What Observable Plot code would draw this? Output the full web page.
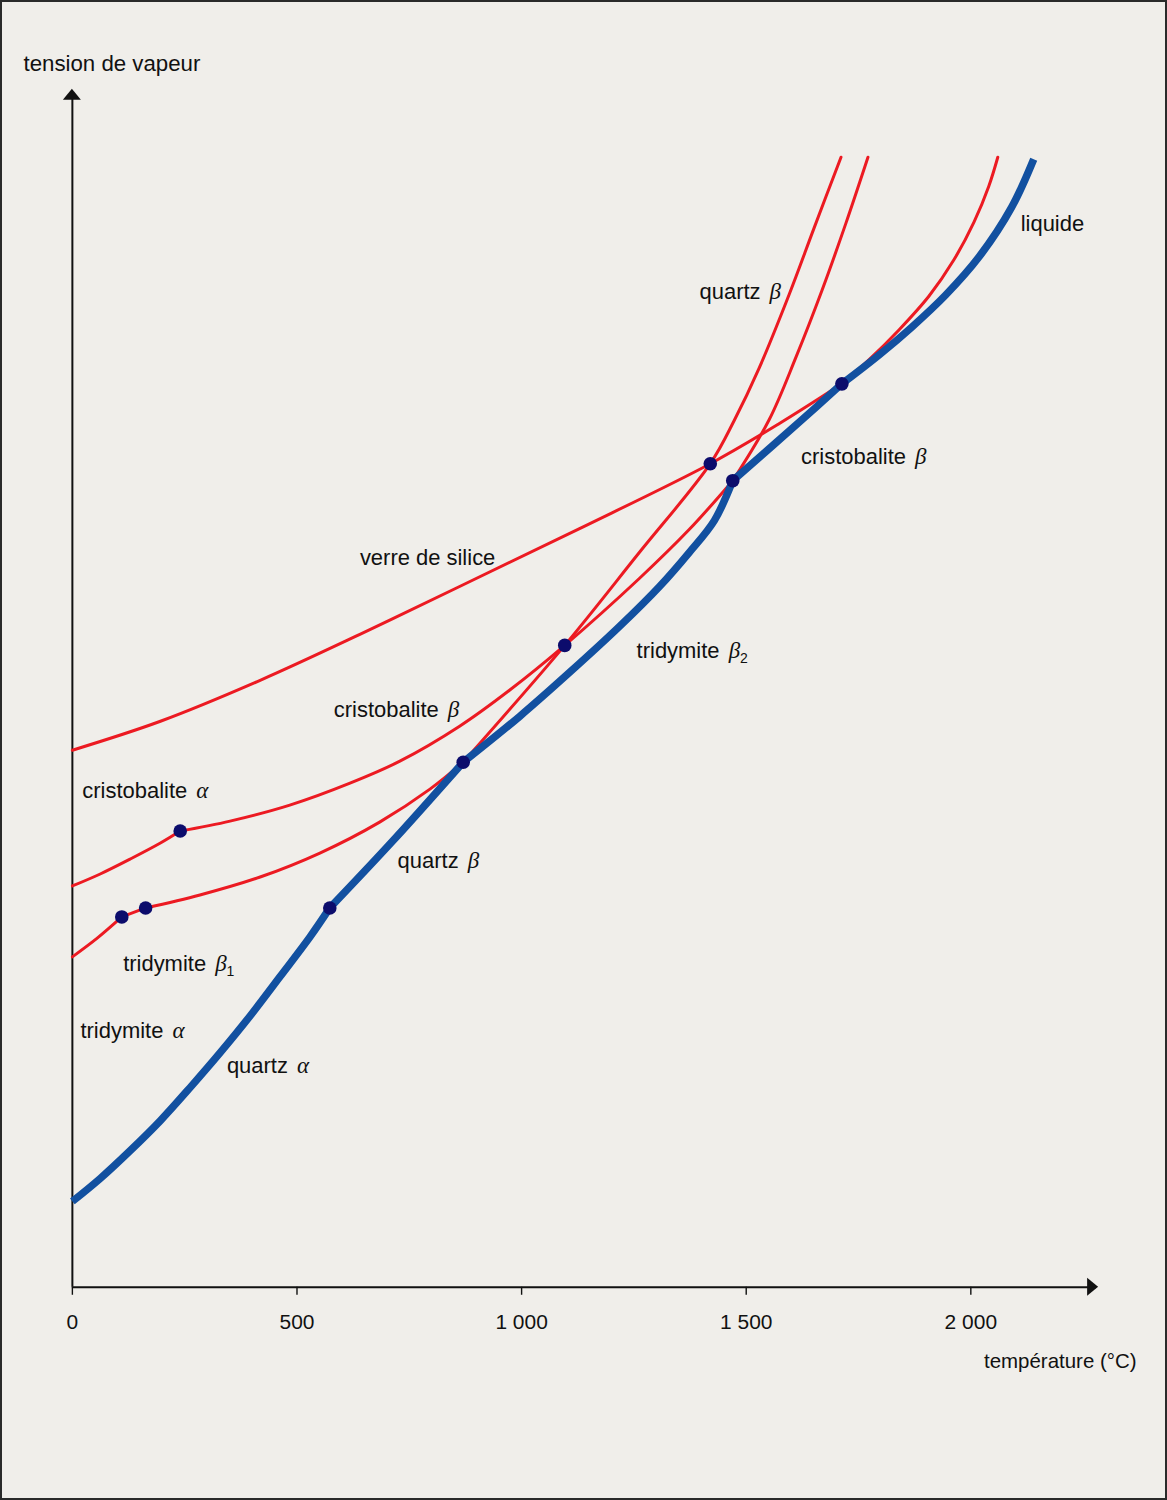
<!DOCTYPE html>
<html><head><meta charset="utf-8">
<script src="https://cdn.jsdelivr.net/npm/d3@7"></script>
<script src="https://cdn.jsdelivr.net/npm/@observablehq/plot@0.6"></script>
<style>
html,body{margin:0;padding:0;background:#f0eeea;}
#frame{position:relative;width:1167px;height:1500px;box-sizing:border-box;border:2px solid #2a2a2a;background:#f0eeea;overflow:hidden;}
#chart{position:absolute;left:-2px;top:-2px;}
</style></head><body><div id="frame"><div id="chart"></div></div>
<script>
// ---- Data (temperature °C, relative log vapour pressure, arbitrary units) ----
// Stable phases (blue)
const quartzAlphaT = [0, 62, 129, 196, 262, 329, 396, 462, 529, 573];
const quartzAlphaY = [8.6, 10.9, 13.7, 16.7, 20.0, 23.5, 27.2, 31.1, 35.1, 38.0];
const quartzBetaStableT = [573, 713, 870];
const quartzBetaStableY = [38.0, 44.7, 52.6];
const tridymiteB2StableT = [870, 996, 1107, 1218, 1307, 1373, 1429, 1470];
const tridymiteB2StableY = [52.6, 57.2, 61.6, 66.2, 70.2, 73.6, 76.8, 80.8];
const cristoBetaStableT = [1470, 1624, 1713];
const cristoBetaStableY = [80.8, 86.9, 90.5];
const liquidT = [1713, 1796, 1869, 1944, 2018, 2091, 2140];
const liquidY = [90.5, 93.4, 96.2, 99.4, 103.2, 108.2, 113.0];
// Metastable phases (red)
const glassT = [0, 196, 418, 640, 862, 1129, 1420, 1573, 1713];
const glassY = [53.8, 56.7, 60.8, 65.4, 70.2, 76.0, 82.5, 86.5, 90.5];
const cristoAlphaT = [0, 62, 129, 196, 240];
const cristoAlphaY = [40.2, 41.4, 42.9, 44.5, 45.7];
const cristoBetaLowT = [240, 351, 484, 618, 729, 862, 973, 1096, 1262, 1373, 1470];
const cristoBetaLowY = [45.7, 46.7, 48.3, 50.5, 52.7, 56.2, 59.8, 64.3, 71.0, 75.9, 80.8];
const cristoBetaHighT = [1713, 1773, 1840, 1907, 1962, 2007, 2040, 2060];
const cristoBetaHighY = [90.5, 92.9, 95.9, 99.3, 102.9, 106.7, 110.3, 113.2];
const tridymiteAlphaT = [0, 56, 110];
const tridymiteAlphaY = [33.1, 35.0, 37.1];
const tridymiteB1T = [110, 163];
const tridymiteB1Y = [37.1, 38.0];
const tridymiteB2LowT = [163, 284, 418, 551, 684, 796, 870];
const tridymiteB2LowY = [38.0, 39.3, 41.1, 43.5, 46.6, 49.9, 52.6];
const tridymiteB2HighT = [1470, 1551, 1611, 1669, 1722, 1771];
const tridymiteB2HighY = [80.8, 86.9, 93.2, 99.9, 106.6, 113.2];
const quartzBetaMetaT = [870, 1096, 1262, 1420, 1473, 1529, 1596, 1651, 1711];
const quartzBetaMetaY = [52.6, 64.3, 73.6, 82.5, 86.8, 92.1, 99.5, 106.1, 113.2];
// Transition / triple points
const pointT = [110, 163, 240, 573, 870, 1096, 1420, 1470, 1713];
const pointY = [37.1, 38.0, 45.7, 38.0, 52.6, 64.3, 82.5, 80.8, 90.5];
// Curve labels
const labelText = ["liquide", "quartz β", "cristobalite β", "verre de silice", "tridymite β₂",
  "cristobalite β", "cristobalite α", "quartz β", "tridymite β₁", "tridymite α", "quartz α"];
const labelT = [2111, 1396, 1622, 640, 1256, 582, 22, 724, 113, 18, 344];
const labelY = [106.5, 99.7, 83.2, 73.1, 63.7, 57.8, 49.7, 42.7, 32.4, 25.7, 22.2];
// Axis ticks
const xTicks = [0, 500, 1000, 1500, 2000];
const xTickLabels = ["0", "500", "1 000", "1 500", "2 000"];

function seg(name, T, Y) { return T.map((t, i) => ({seg: name, T: t, Y: Y[i]})); }
const blueRows = [
  ...seg("qa", quartzAlphaT, quartzAlphaY),
  ...seg("qb", quartzBetaStableT, quartzBetaStableY),
  ...seg("tb2", tridymiteB2StableT, tridymiteB2StableY),
  ...seg("cb", cristoBetaStableT, cristoBetaStableY),
  ...seg("liq", liquidT, liquidY)
];
const redRows = [
  ...seg("glass", glassT, glassY),
  ...seg("ca", cristoAlphaT, cristoAlphaY),
  ...seg("cbl", cristoBetaLowT, cristoBetaLowY),
  ...seg("cbh", cristoBetaHighT, cristoBetaHighY),
  ...seg("ta", tridymiteAlphaT, tridymiteAlphaY),
  ...seg("tb1", tridymiteB1T, tridymiteB1Y),
  ...seg("tb2l", tridymiteB2LowT, tridymiteB2LowY),
  ...seg("tb2h", tridymiteB2HighT, tridymiteB2HighY),
  ...seg("qbm", quartzBetaMetaT, quartzBetaMetaY)
];
const points = pointT.map((t, i) => ({T: t, Y: pointY[i]}));
const labels = labelText.map((s, i) => ({s, T: labelT[i], Y: labelY[i]}));
const tickMap = new Map(xTicks.map((d, i) => [d, xTickLabels[i]]));

const RED = "#ec1a22", BLUE = "#1250a0", NAVY = "#0c0c6c";
const SANS = "'Liberation Sans', Arial, Helvetica, sans-serif";

const plot = Plot.plot({
  width: 1167, height: 1500,
  marginLeft: 72, marginRight: 69, marginTop: 95, marginBottom: 211,
  x: {domain: [0, 2280], axis: null},
  y: {domain: [0, 119.4], axis: null},
  style: {background: "transparent", fontFamily: SANS, fontSize: "21px", color: "#111", overflow: "visible"},
  marks: [
    Plot.axisX({ticks: xTicks, tickFormat: d => tickMap.get(d), tickSize: 8, tickPadding: 19,
      label: null, stroke: "#111", strokeWidth: 1.4, fontSize: 21, fill: "#111"}),
    Plot.ruleY([0], {stroke: "#111", strokeWidth: 2}),
    Plot.ruleX([0], {stroke: "#111", strokeWidth: 2}),
    Plot.line(redRows, {x: "T", y: "Y", z: "seg", stroke: RED, strokeWidth: 3, curve: "catmull-rom"}),
    Plot.line(blueRows, {x: "T", y: "Y", z: "seg", stroke: BLUE, strokeWidth: 7.5, curve: "catmull-rom", strokeLinecap: "butt"}),
    Plot.dot(points, {x: "T", y: "Y", r: 6.8, fill: NAVY, stroke: "none"}),
    Plot.text(labels, {x: "T", y: "Y", text: "s", textAnchor: "start", lineAnchor: "middle", fontSize: 22, fill: "#111"}),
    Plot.text(["température (°C)"], {frameAnchor: "bottom-right", dx: 40, dy: 74, textAnchor: "end", lineAnchor: "middle", fontSize: 20.5, fill: "#111"}),
    Plot.text(["tension de vapeur"], {frameAnchor: "top-left", dx: -49, dy: -32, textAnchor: "start", lineAnchor: "middle", fontSize: 22.3, fill: "#111"})
  ]
});

// Greek letters in italic serif, subscripts
d3.select(plot).selectAll("text").each(function () {
  const t = this.textContent;
  const m = t.match(/^(.*?)\s([αβ])([₁₂]?)$/);
  if (!m) return;
  const sel = d3.select(this);
  sel.text(null);
  sel.append("tspan").text(m[1] + " ");
  sel.append("tspan").attr("dx", 3).attr("font-family", "'Liberation Serif', 'DejaVu Serif', serif")
    .attr("font-style", "italic").attr("font-size", 23).text(m[2]);
  if (m[3]) sel.append("tspan").attr("font-size", 14).attr("dy", 5).text(m[3] === "₁" ? "1" : "2");
});

// Arrow heads at the ends of both axes
const sx = plot.scale("x"), sy = plot.scale("y");
const x0 = sx.apply(0), xEnd = sx.apply(2280), y0 = sy.apply(0), yTop = sy.apply(119.4);
const g = d3.select(plot).append("g").attr("fill", "#111");
g.append("path").attr("d", `M${xEnd - 9},${y0 - 9}L${xEnd + 2},${y0}L${xEnd - 9},${y0 + 9}Z`);
g.append("path").attr("d", `M${x0 - 9},${yTop + 5}L${x0},${yTop - 6}L${x0 + 9},${yTop + 5}Z`);

document.getElementById("chart").appendChild(plot);
</script></body></html>
